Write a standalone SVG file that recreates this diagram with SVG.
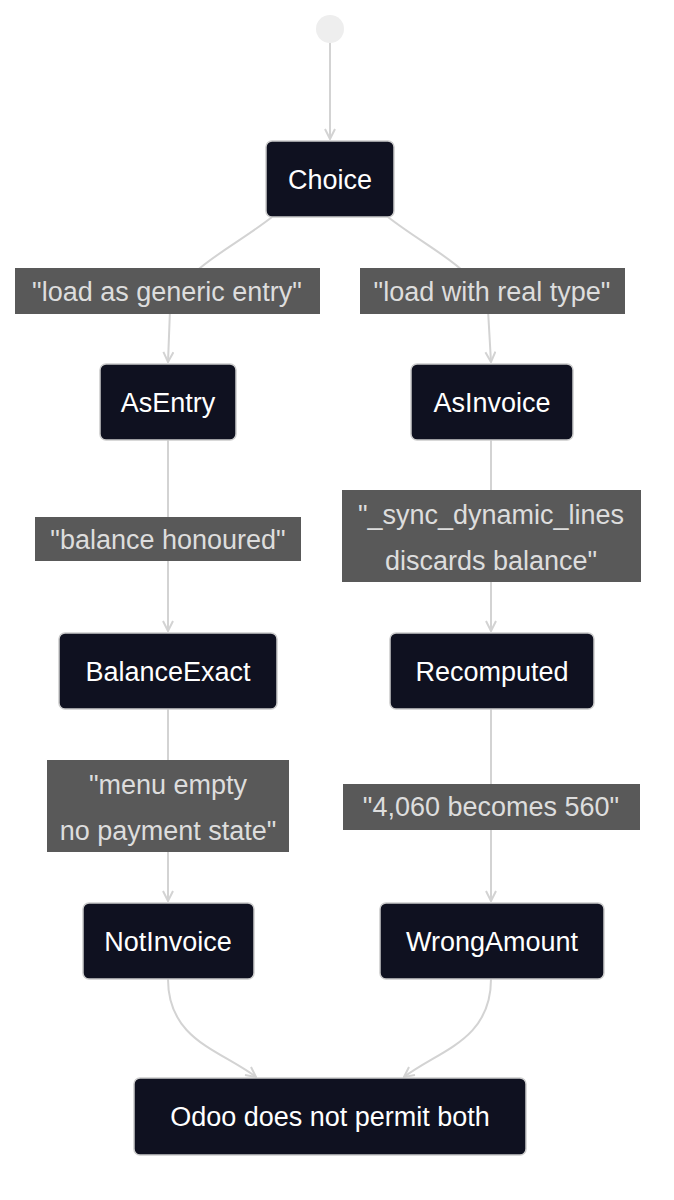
<svg xmlns="http://www.w3.org/2000/svg" width="674" height="1200" viewBox="0 0 674 1200">
<style>
.n rect{fill:#0f1120;stroke:#cccccc;stroke-width:1.5}
.n text{fill:#ffffff;font-family:"Liberation Sans",Arial,sans-serif;font-size:27px;text-anchor:middle;dominant-baseline:central}
.l rect{fill:#595959}
.l text{fill:#dddddd;font-family:"Liberation Sans",Arial,sans-serif;font-size:27px;text-anchor:middle;dominant-baseline:central}
.e path{fill:none;stroke:#d3d3d3;stroke-width:2;marker-end:url(#a)}
</style>
<defs><marker id="a" viewBox="0 0 12 12" refX="11" refY="6" markerWidth="12" markerHeight="12" markerUnits="userSpaceOnUse" orient="auto"><path d="M1,1 L11,6 L1,11" fill="none" stroke="#d3d3d3" stroke-width="2"/></marker></defs>
<rect width="674" height="1200" fill="#ffffff"/>
<g id="start"><circle cx="330" cy="29" r="14" fill="#eeeeee"/></g>
<g id="edges" class="e">
<path d="M330,43 L330,139"/>
<path d="M272,217 C230,250 180,270 170,310 L168,362"/>
<path d="M388,217 C430,250 480,270 488,310 L491,362"/>
<path d="M168,440 L168,631"/>
<path d="M491,440 L491,631"/>
<path d="M168,709 L168,901"/>
<path d="M491,709 L491,901"/>
<path d="M168,979 C168,1040 220,1050 256,1077"/>
<path d="M491,979 C491,1040 440,1050 404,1077"/>
</g>
<g class="l">
<g id="l1"><rect x="15" y="268" width="305" height="46"/><text x="167" y="292">"load as generic entry"</text></g>
<g id="l2"><rect x="360" y="268" width="265" height="46"/><text x="492" y="292">"load with real type"</text></g>
<g id="l3"><rect x="35" y="517" width="266" height="44"/><text x="168" y="540">"balance honoured"</text></g>
<g id="l4"><rect x="342" y="490" width="299" height="92"/><text x="491" y="515">"_sync_dynamic_lines</text><text x="491" y="561">discards balance"</text></g>
<g id="l5"><rect x="47" y="760" width="242" height="92"/><text x="168" y="785">"menu empty</text><text x="168" y="831">no payment state"</text></g>
<g id="l6"><rect x="343" y="784" width="297" height="46"/><text x="491" y="807">"4,060 becomes 560"</text></g>
</g>
<g id="Choice" class="n"><rect x="266" y="141" width="128" height="76" rx="6"/><text x="330" y="180">Choice</text></g>
<g id="AsEntry" class="n"><rect x="100" y="364" width="136" height="76" rx="6"/><text x="168" y="403">AsEntry</text></g>
<g id="AsInvoice" class="n"><rect x="411" y="364" width="162" height="76" rx="6"/><text x="492" y="403">AsInvoice</text></g>
<g id="BalanceExact" class="n"><rect x="59" y="633" width="218" height="76" rx="6"/><text x="168" y="672">BalanceExact</text></g>
<g id="Recomputed" class="n"><rect x="390" y="633" width="204" height="76" rx="6"/><text x="492" y="672">Recomputed</text></g>
<g id="NotInvoice" class="n"><rect x="83" y="903" width="171" height="76" rx="6"/><text x="168" y="942">NotInvoice</text></g>
<g id="WrongAmount" class="n"><rect x="380" y="903" width="224" height="76" rx="6"/><text x="492" y="942">WrongAmount</text></g>
<g id="Odoo" class="n"><rect x="134" y="1078" width="392" height="77" rx="6"/><text x="330" y="1117">Odoo does not permit both</text></g>
</svg>
